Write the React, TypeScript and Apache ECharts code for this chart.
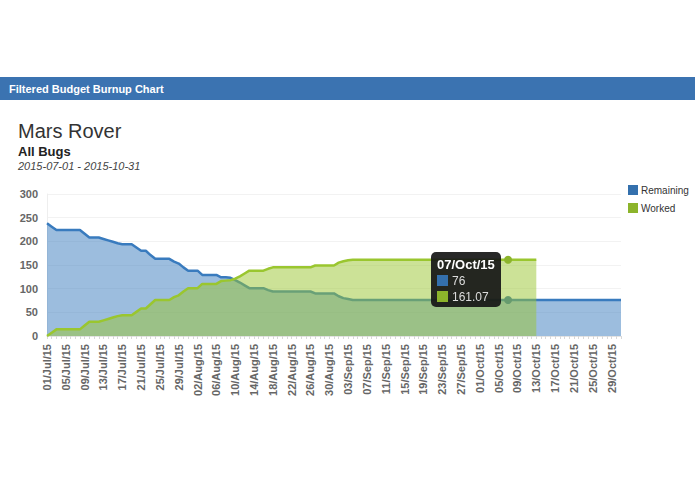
import React, { useEffect, useRef } from "react";
import * as echarts from "echarts";

const monthNames = ["Jul", "Aug", "Sep", "Oct"];
const monthDays = [31, 31, 30, 31];
const categories: string[] = [];
monthNames.forEach((m, mi) => {
  for (let d = 1; d <= monthDays[mi]; d++) {
    categories.push(String(d).padStart(2, "0") + "/" + m + "/15");
  }
});

const remaining = [
  238, 231, 224, 224, 224, 224, 224, 224, 216, 208,
  208, 208, 205, 202, 199, 196, 194, 194, 194, 187,
  180, 180, 171, 163, 163, 163, 163, 157, 153, 145,
  138, 138, 138, 129, 129, 129, 129, 124, 124, 123,
  118, 113, 107, 101, 101, 101, 101, 97, 94, 94,
  94, 94, 94, 94, 94, 94, 94, 90, 90, 90,
  90, 90, 84, 80, 78, 76, 76, 76, 76, 76,
  76, 76, 76, 76, 76, 76, 76, 76, 76, 76,
  76, 76, 76, 76, 76, 76, 76, 76, 76, 76,
  76, 76, 76, 76, 76, 76, 76, 76, 76, 76,
  76, 76, 76, 76, 76, 76, 76, 76, 76, 76,
  76, 76, 76, 76, 76, 76, 76, 76, 76, 76,
  76, 76, 76,
];

const worked = [
  0, 7, 14, 14, 14, 14, 14, 14, 22, 30,
  30, 30, 33, 36, 39, 42, 44, 44, 44, 51,
  58, 58, 67, 76, 76, 76, 76, 82, 86, 94,
  101, 101, 101, 110, 110, 110, 110, 116, 117, 118,
  121, 126, 132, 138, 138, 138, 138, 142, 145, 145,
  145, 145, 145, 145, 145, 145, 145, 149, 149, 149,
  149, 149, 155, 158, 160, 161.07, 161.07, 161.07, 161.07, 161.07,
  161.07, 161.07, 161.07, 161.07, 161.07, 161.07, 161.07, 161.07, 161.07, 161.07,
  161.07, 161.07, 161.07, 161.07, 161.07, 161.07, 161.07, 161.07, 161.07, 161.07,
  161.07, 161.07, 161.07, 161.07, 161.07, 161.07, 161.07, 161.07, 161.07, 161.07,
  161.07, 161.07, 161.07, 161.07, 161.07,
];

const yTicks = [0, 50, 100, 150, 200, 250, 300];
const seriesNames = ["Remaining", "Worked"];
const headerText = "Filtered Budget Burnup Chart";
const titleText = "Mars Rover";
const subtitleText = "All Bugs";
const rangeText = "2015-07-01 - 2015-10-31";
const tipIndex = 98;

const BLUE = "#3470ad";
const GREEN = "#8cb42b";
const FONT = "'Liberation Sans', Arial, Helvetica, sans-serif";

export default function App() {
  const ref = useRef<HTMLDivElement>(null);
  useEffect(() => {
    if (!ref.current) return;
    const chart = echarts.init(ref.current, undefined, { renderer: "svg" });
    const workedData = categories.map((_, i) => (i < worked.length ? worked[i] : "-"));
    chart.setOption({
      animation: false,
      textStyle: { fontFamily: FONT },
      color: [BLUE, GREEN],
      graphic: [
        { type: "rect", shape: { x: 0, y: 77, width: 695, height: 23 }, style: { fill: "#3b73b1" } },
        { type: "text", x: 9, y: 88.5, style: { text: headerText, fill: "#fff", font: `bold 11px ${FONT}`, textVerticalAlign: "middle" } },
        { type: "text", x: 18, y: 131, style: { text: titleText, fill: "#333", font: `20px ${FONT}`, textVerticalAlign: "middle" } },
        { type: "text", x: 18, y: 151, style: { text: subtitleText, fill: "#222", font: `bold 13px ${FONT}`, textVerticalAlign: "middle" } },
        { type: "text", x: 18, y: 166, style: { text: rangeText, fill: "#444", font: `italic 11px ${FONT}`, textVerticalAlign: "middle" } },
      ],
      legend: {
        data: seriesNames,
        orient: "vertical",
        left: 623,
        top: 180,
        icon: "rect",
        itemWidth: 10,
        itemHeight: 10,
        itemGap: 8,
        textStyle: { fontSize: 10, color: "#333", fontFamily: FONT, padding: [0, 0, 0, -2] },
      },
      tooltip: {
        trigger: "axis",
        position: [431, 252],
        backgroundColor: "rgba(22,22,22,0.92)",
        borderWidth: 0,
        padding: [4, 6, 2, 6],
        transitionDuration: 0,
        extraCssText: "border-radius:5px;box-shadow:none;",
        axisPointer: { type: "line", lineStyle: { opacity: 0, width: 0 } },
        formatter: (params: any[]) => {
          const title = params[0].axisValue;
          let html = `<div style="font:bold 13px ${FONT};color:#fff;line-height:17px">${title}</div>`;
          params.forEach((p) => {
            html += `<div style="font:12px ${FONT};color:#ddd;line-height:16px"><span style="display:inline-block;width:11px;height:11px;background:${p.color};margin-right:4px;vertical-align:-1px"></span>${p.value}</div>`;
          });
          return html;
        },
      },
      grid: { left: 47, right: 74, top: 194, bottom: 158, containLabel: false },
      xAxis: {
        type: "category",
        data: categories,
        boundaryGap: false,
        axisLine: { lineStyle: { color: "#e3e3e3" } },
        axisTick: { show: true, interval: 0, length: 3, lineStyle: { color: "#d8d8d8" } },
        axisLabel: { rotate: 90, interval: 3, color: "#666", fontWeight: "bold", fontSize: 11, margin: 8, fontFamily: FONT },
        splitLine: { show: false },
      },
      yAxis: {
        type: "value",
        min: yTicks[0],
        max: yTicks[yTicks.length - 1],
        interval: 50,
        axisLine: { show: true, lineStyle: { color: "#eeeeee" } },
        axisTick: { show: false },
        axisLabel: { color: "#666", fontWeight: "bold", fontSize: 11, margin: 9, fontFamily: FONT },
        splitLine: { lineStyle: { color: "#f2f2f2" } },
      },
      series: [
        {
          name: seriesNames[0],
          type: "line",
          z: 2,
          data: remaining,
          showSymbol: false,
          symbol: "circle",
          symbolSize: 8,
          lineStyle: { width: 2.5, color: BLUE },
          itemStyle: { color: BLUE },
          areaStyle: { color: BLUE, opacity: 0.5 },
          emphasis: { scale: false },
        },
        {
          name: seriesNames[1],
          type: "line",
          z: 3,
          data: workedData,
          showSymbol: false,
          symbol: "circle",
          symbolSize: 8,
          lineStyle: { width: 2.5, color: GREEN },
          itemStyle: { color: GREEN },
          areaStyle: { color: GREEN, opacity: 0.5 },
          emphasis: { scale: false },
        },
      ],
    });
    chart.dispatchAction({ type: "showTip", seriesIndex: 0, dataIndex: tipIndex });
    return () => chart.dispose();
  }, []);
  return (
    <div style={{ position: "fixed", left: 0, top: 0, width: 695, height: 494, background: "#fff" }}>
      <div ref={ref} style={{ width: 695, height: 494 }} />
    </div>
  );
}
